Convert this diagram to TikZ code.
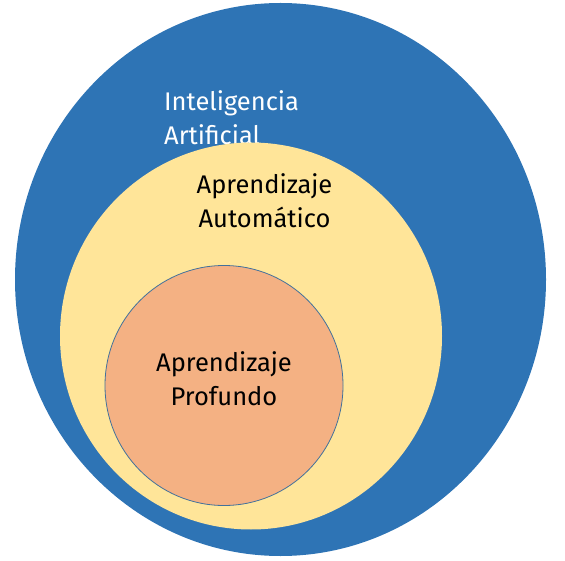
\documentclass[tikz,border=0pt]{standalone}
\usepackage{fontspec}
\setmainfont{Fira Sans}
\usetikzlibrary{shapes.geometric}
\definecolor{iablue}{HTML}{2E74B5}
\definecolor{mlyellow}{HTML}{FFE599}
\definecolor{dlorange}{HTML}{F4B183}
\definecolor{dledge}{HTML}{41719C}
\tikzset{
  field/.style={ellipse, inner sep=0pt, outer sep=0pt},
  label/.style={inner sep=0pt, font=\fontsize{25.5}{34}\selectfont},
}
\begin{document}
\begin{tikzpicture}[x=1pt,y=-1pt]
  \useasboundingbox (0,0) rectangle (565,561);
  % outer field: artificial intelligence
  \node[field, fill=iablue, minimum width=531pt, minimum height=553pt] (ia) at (280.5,279.5) {};
  \node[label, text=white, align=left, anchor=base west] (iatext) at (164,145) {Inteligencia\\Artificial};
  % middle field: machine learning
  \node[field, fill=mlyellow, minimum width=382pt, minimum height=387pt] (ml) at (251,336) {};
  \node[label, text=black, align=center, anchor=base] (mltext) at (264.5,228) {Aprendizaje\\Automático};
  % inner field: deep learning
  \node[field, fill=dlorange, draw=dledge, line width=0.8pt, minimum width=238pt, minimum height=240pt] (dl) at (224,385.5) {};
  \node[label, text=black, align=center, anchor=base] (dltext) at (224,405) {Aprendizaje\\Profundo};
\end{tikzpicture}
\end{document}
